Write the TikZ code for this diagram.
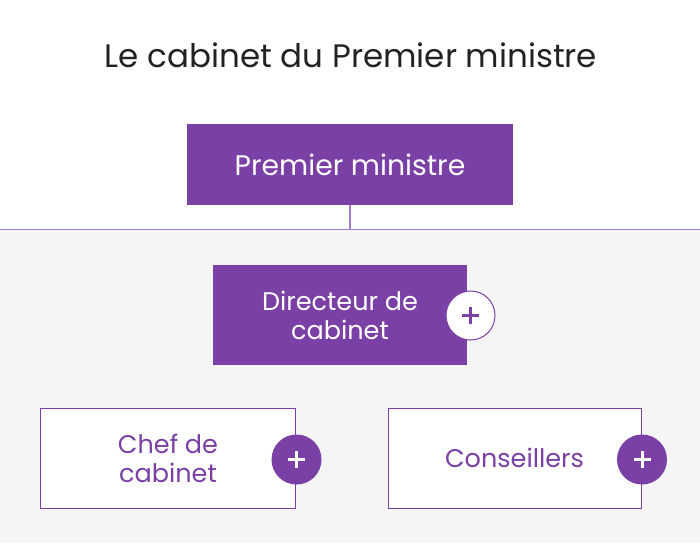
\documentclass[tikz,border=0pt]{standalone}
\usepackage{fontspec}
\setmainfont{Poppins}
\definecolor{cabviolet}{HTML}{7B40A6}
\definecolor{cabline}{HTML}{A67BC9}
\definecolor{cabgrey}{HTML}{F5F5F5}
\definecolor{cabtitle}{HTML}{222222}
\begin{document}
\begin{tikzpicture}[x=1pt,y=-1pt]
    \tikzstyle{office}=[rectangle,inner sep=0pt,align=center,font=\fontsize{25.5}{29}\selectfont,minimum height=100pt]
    \tikzstyle{filled}=[office,fill=cabviolet,text=white]
    \tikzstyle{framed}=[office,draw=cabviolet,fill=white,text=cabviolet,line width=1pt]
    \tikzstyle{more}=[circle,inner sep=0pt,minimum size=50pt,line width=1pt]
    \tikzstyle{link}=[draw=cabline,line width=1.5pt]

    \useasboundingbox (0,0) rectangle (700,543);
    \fill[cabgrey] (0,230) rectangle (700,543);
    \coordinate (L) at (0,229.5);
    \coordinate (R) at (700,229.5);

    \node[text=cabtitle,font=\fontsize{32.5}{38}\selectfont] (title) at (351,55) {Le cabinet du Premier ministre};
    \node[filled,minimum width=326pt,minimum height=81pt,font=\fontsize{28.3}{34}\selectfont] (PM) at (350,164.5) {Premier ministre};

    \draw[link] (L) -- (R);
    \draw[link] (PM.south) -- (PM.south |- L);

    \node[filled,minimum width=254pt] (DC) at (340,315) {Directeur de\\cabinet};
    \node[framed,minimum width=255pt] (CC) at (168,458) {Chef de\\cabinet};
    \node[framed,minimum width=253pt] (CO) at (514.5,458) {Conseillers};

    \node[more,draw=cabviolet,fill=white,minimum size=49pt] (P-DC) at (470.5,315.5) {};
    \foreach \name/\x in {CC/296.5, CO/642}
        \node[more,fill=cabviolet] (P-\name) at (\x,459.5) {};

    \draw[cabviolet,line width=3pt] ([xshift=-8.5pt]P-DC.center) -- ([xshift=8.5pt]P-DC.center);
    \draw[cabviolet,line width=3pt] ([yshift=-8.5pt]P-DC.center) -- ([yshift=8.5pt]P-DC.center);
    \foreach \name in {CC, CO} {
        \draw[white,line width=3pt] ([xshift=-8.5pt]P-\name.center) -- ([xshift=8.5pt]P-\name.center);
        \draw[white,line width=3pt] ([yshift=-8.5pt]P-\name.center) -- ([yshift=8.5pt]P-\name.center);
    }
\end{tikzpicture}
\end{document}
